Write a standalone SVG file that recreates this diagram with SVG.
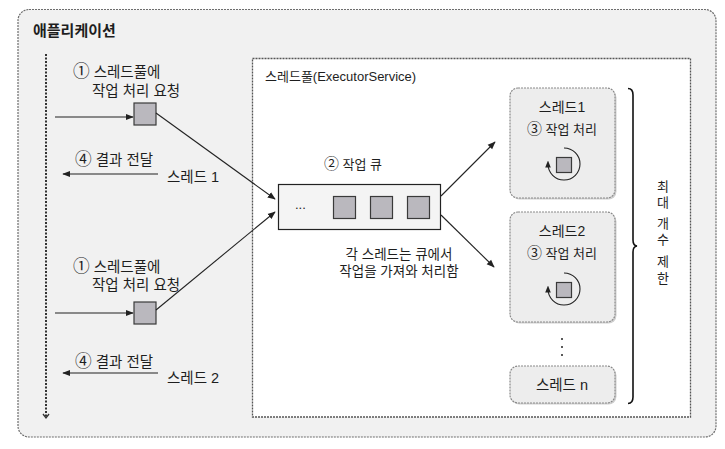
<svg xmlns="http://www.w3.org/2000/svg" width="725" height="449" viewBox="0 0 725 449">
<style>
text{font-family:"Liberation Sans","Noto Sans CJK KR",sans-serif;font-size:13px;fill:#1e1e1e}
.title{font-family:"Noto Sans CJK KR",sans-serif;font-size:15px;font-weight:bold}
.l{font-size:14.5px}
.t{font-size:14px}
.c{text-anchor:middle}
.n{font-family:"Noto Sans CJK KR",sans-serif;font-size:1.15em}
.job{fill:#bab8be;stroke:#3a3a3a;stroke-width:1.2}
.tbox{fill:#ededed;stroke:#8a8a8a;stroke-width:1.2;stroke-dasharray:2 1}
.sh{fill:#cfcfcf}
.ln{fill:none;stroke:#222;stroke-width:1.1}
</style>
<defs>
<marker id="ah" viewBox="0 0 10 10" refX="9" refY="5" markerWidth="8" markerHeight="8" markerUnits="userSpaceOnUse" orient="auto">
<path d="M0,1 L10,5 L0,9 Z" fill="#222"/>
</marker>
<marker id="ah2" viewBox="0 0 10 10" refX="5" refY="5" markerWidth="7" markerHeight="7" markerUnits="userSpaceOnUse" orient="auto">
<path d="M0,1 L10,5 L0,9 Z" fill="#222"/>
</marker>
</defs>
<rect width="725" height="449" fill="#ffffff"/>
<g id="app">
<rect x="18" y="9.5" width="698" height="427.5" rx="11" fill="#f1f1f1" stroke="#6e6e6e" stroke-width="1.2" stroke-dasharray="2 1"/>
<text class="title" x="33" y="36">애플리케이션</text>
<line x1="46" y1="54" x2="46" y2="417" stroke="#333" stroke-width="2" stroke-dasharray="2 1.5"/>
<path d="M43,414 L46,418 L49,414" fill="none" stroke="#333" stroke-width="1.3"/>
</g>
<g id="pool">
<rect x="252.5" y="58.5" width="438" height="358.5" fill="#ffffff" stroke="#555" stroke-width="1.3" stroke-dasharray="2 1"/>
<text x="265" y="81">스레드풀(ExecutorService)</text>
</g>
<g id="req1">
<text class="l"><tspan x="73" y="77"><tspan class="n">①</tspan> 스레드풀에</tspan><tspan x="92" y="96">작업 처리 요청</tspan></text>
<rect class="job" x="134" y="103" width="22" height="22"/>
</g>
<g id="res1">
<text class="l" x="75" y="165"><tspan class="n">④</tspan> 결과 전달</text>
<text class="l" x="167" y="182">스레드 1</text>
</g>
<g id="req2">
<text class="l"><tspan x="73" y="272"><tspan class="n">①</tspan> 스레드풀에</tspan><tspan x="92" y="290">작업 처리 요청</tspan></text>
<rect class="job" x="134" y="302" width="22" height="22"/>
</g>
<g id="res2">
<text class="l" x="75" y="367"><tspan class="n">④</tspan> 결과 전달</text>
<text class="l" x="167" y="383">스레드 2</text>
</g>
<g id="queue">
<text class="c" x="353" y="169"><tspan class="n">②</tspan> 작업 큐</text>
<rect x="278.5" y="184.5" width="162" height="45" fill="#f4f4f4" stroke="#222" stroke-width="1.2"/>
<text x="295" y="209">...</text>
<rect class="job" x="333.5" y="196.5" width="22" height="22"/>
<rect class="job" x="370.5" y="196.5" width="22" height="22"/>
<rect class="job" x="407.5" y="196.5" width="22" height="22"/>
<text class="c" style="font-size:13.5px"><tspan x="399" y="259">각 스레드는 큐에서</tspan><tspan x="399" y="276">작업을 가져와 처리함</tspan></text>
</g>
<g id="thread1">
<rect class="sh" x="511.5" y="89.5" width="105" height="110" rx="8"/>
<rect class="tbox" x="510" y="88" width="105" height="110" rx="8"/>
<text class="c t" x="562" y="112">스레드1</text>
<text class="c" x="562" y="134"><tspan class="n">③</tspan> 작업 처리</text>
<rect class="job" x="556.5" y="157.5" width="15" height="15"/>
<path class="ln" d="M564,148 A16,16 0 1 1 548,164" marker-end="url(#ah2)"/>
</g>
<g id="thread2">
<rect class="sh" x="511.5" y="213.5" width="105" height="110" rx="8"/>
<rect class="tbox" x="510" y="212" width="105" height="110" rx="8"/>
<text class="c t" x="562" y="236">스레드2</text>
<text class="c" x="562" y="258"><tspan class="n">③</tspan> 작업 처리</text>
<rect class="job" x="556.5" y="282.5" width="15" height="15"/>
<path class="ln" d="M564,273 A16,16 0 1 1 548,289" marker-end="url(#ah2)"/>
</g>
<g id="dots" fill="#222">
<circle cx="562" cy="339" r="1"/>
<circle cx="562" cy="347" r="1"/>
<circle cx="562" cy="355" r="1"/>
</g>
<g id="threadn">
<rect class="sh" x="511.5" y="367.5" width="105" height="37" rx="8"/>
<rect class="tbox" x="510" y="366" width="105" height="37" rx="8"/>
<text class="c l" x="562" y="390">스레드 n</text>
</g>
<g id="limit">
<path d="M628,88.5 Q633,88.5 633,95 L633,240 Q633,245.5 637,246 Q633,246.5 633,252 L633,397 Q633,403.5 628,403.5" fill="none" stroke="#111" stroke-width="1.6"/>
<text class="c"><tspan x="663" y="191">최</tspan><tspan x="663" y="207">대</tspan><tspan x="663" y="228">개</tspan><tspan x="663" y="244">수</tspan><tspan x="663" y="266">제</tspan><tspan x="663" y="283">한</tspan></text>
</g>
<g id="connectors" class="ln">
<line class="ln" x1="55" y1="117" x2="133" y2="117" marker-end="url(#ah)"/>
<line class="ln" x1="158" y1="174" x2="63" y2="174" marker-end="url(#ah)"/>
<line class="ln" x1="55" y1="313" x2="133" y2="313" marker-end="url(#ah)"/>
<line class="ln" x1="158" y1="373" x2="63" y2="373" marker-end="url(#ah)"/>
<line class="ln" x1="156" y1="113" x2="275" y2="199" marker-end="url(#ah)"/>
<line class="ln" x1="156" y1="310" x2="275" y2="212" marker-end="url(#ah)"/>
<line class="ln" x1="441" y1="196" x2="495" y2="142" marker-end="url(#ah)"/>
<line class="ln" x1="441" y1="215" x2="494" y2="267" marker-end="url(#ah)"/>
</g>
</svg>
